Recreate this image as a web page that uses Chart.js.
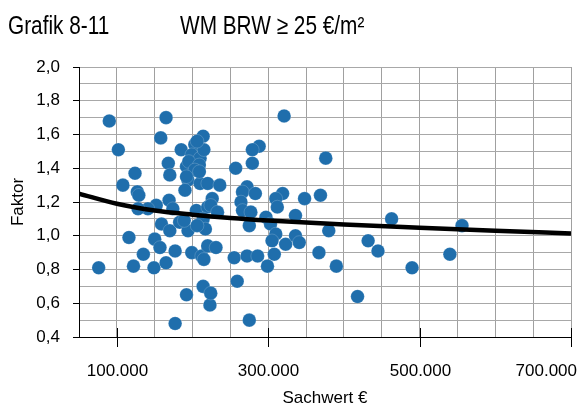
<!DOCTYPE html>
<html>
<head>
<meta charset="utf-8">
<script src="https://cdn.jsdelivr.net/npm/chart.js@4"></script>
<style>
  html, body { margin: 0; padding: 0; background: #fff; }
</style>
</head>
<body>
<canvas id="chart" width="580" height="409"></canvas>
<script>
// Daten: Sachwert (€) und Faktor je Kauffall
const sachwert = [
  90000, 165000, 158000, 102000, 185000, 214000, 203000, 199000, 210000, 168000,
  124000, 108000, 170000, 192000, 194000, 190000, 210000, 220000, 127000, 129000,
  169000, 152000, 141000, 128000, 205000, 220000, 321000, 288000, 279000, 257000,
  279000, 376000, 236000, 272000, 266000, 283000, 319000, 310000, 348000, 369000,
  226000, 224000, 264000, 266000, 312000, 233000, 336000, 174000, 159000, 170000,
  183000, 194000, 214000, 116000, 150000, 157000, 135000, 177000, 199000, 212000,
  76000, 122000, 149000, 165000, 214000, 192000, 223000, 177000, 277000, 275000,
  297000, 303000, 217000, 310000, 305000, 323000, 336000, 341000, 380000, 220000,
  231000, 215000, 255000, 272000, 286000, 308000, 367000, 299000, 259000, 224000,
  275000, 463000, 556000, 432000, 445000, 540000, 390000, 490000, 418000, 195000,
  209000, 215000, 206000, 189000, 206000, 203000, 192000, 209000
];
const faktor = [
  1.68, 1.70, 1.58, 1.51, 1.51, 1.59, 1.54, 1.48, 1.46, 1.43,
  1.37, 1.30, 1.36, 1.41, 1.33, 1.27, 1.31, 1.31, 1.26, 1.24,
  1.21, 1.18, 1.16, 1.16, 1.15, 1.17, 1.71, 1.53, 1.51, 1.40,
  1.43, 1.46, 1.30, 1.29, 1.26, 1.25, 1.25, 1.22, 1.22, 1.24,
  1.22, 1.18, 1.20, 1.15, 1.17, 1.14, 1.12, 1.16, 1.07, 1.03,
  1.08, 1.03, 1.10, 0.99, 0.98, 0.93, 0.89, 0.91, 0.90, 0.88,
  0.81, 0.82, 0.81, 0.84, 0.70, 0.65, 0.59, 0.48, 1.14, 1.06,
  1.11, 1.07, 1.04, 1.01, 0.97, 0.95, 1.00, 0.96, 1.03, 0.94,
  0.93, 0.86, 0.87, 0.88, 0.88, 0.89, 0.90, 0.82, 0.73, 0.66,
  0.50, 1.10, 1.06, 0.97, 0.91, 0.89, 0.82, 0.81, 0.64, 1.44,
  1.42, 1.51, 1.56, 1.09, 1.06, 1.39, 1.35, 1.38
];

// Trendlinie
const trendX = [50000, 100000, 150000, 200000, 250000, 300000, 400000, 500000, 600000, 700000];
const trendY = [1.25, 1.19, 1.15, 1.125, 1.105, 1.09, 1.067, 1.048, 1.03, 1.014];

const xTickLabels = [100000, 300000, 500000, 700000];
const titleLeft = "Grafik 8-11";
const titleRight = "WM BRW ≥ 25 €/m²";

const fmtX = v => String(v).replace(/\B(?=(\d{3})+(?!\d))/g, ".");
const fmtY = v => v.toFixed(1).replace(".", ",");
const isMajorY = v => Math.round(v * 10) % 2 === 0;

const labelFont = { family: "'Liberation Sans', Arial, sans-serif", size: 17 };

const extras = {
  id: "extras",
  afterDraw(chart) {
    const { ctx, chartArea } = chart;
    const x = chart.scales.x;
    ctx.save();
    ctx.fillStyle = "#000";
    ctx.textBaseline = "alphabetic";
    ctx.textAlign = "left";
    // schmale Schrift nachgebildet (Arial Narrow)
    ctx.font = "26px 'Liberation Sans', Arial, sans-serif";
    ctx.save();
    ctx.scale(0.8, 1);
    ctx.fillText(titleLeft, 8 / 0.8, 34);
    ctx.fillText(titleRight, 180 / 0.8, 34);
    ctx.restore();

    // Hauptstriche kreuzen die Achse, Beschriftung darunter
    ctx.strokeStyle = "#000";
    ctx.lineWidth = 1;
    ctx.font = "17px 'Liberation Sans', Arial, sans-serif";
    ctx.textBaseline = "middle";
    xTickLabels.forEach(v => {
      const px = Math.round(x.getPixelForValue(v)) + 0.5;
      ctx.beginPath();
      ctx.moveTo(px, chartArea.bottom - 9);
      ctx.lineTo(px, chartArea.bottom + 10);
      ctx.stroke();
      const t = fmtX(v);
      const w = ctx.measureText(t).width;
      if (px + w / 2 > chart.width - 3) {
        ctx.textAlign = "right";
        ctx.fillText(t, chart.width - 3, 371);
      } else {
        ctx.textAlign = "center";
        ctx.fillText(t, px, 371);
      }
    });
    ctx.restore();
  }
};

new Chart(document.getElementById("chart"), {
  type: "scatter",
  data: {
    datasets: [
      {
        type: "line",
        label: "Trend",
        data: trendX.map((x, i) => ({ x: x, y: trendY[i] })),
        borderColor: "#000",
        borderWidth: 4.5,
        pointRadius: 0,
        tension: 0.4,
        cubicInterpolationMode: "monotone",
        fill: false,
        order: 0
      },
      {
        label: "Faktor",
        data: sachwert.map((x, i) => ({ x: x, y: faktor[i] })),
        backgroundColor: "#1F6EAC",
        borderColor: "rgba(255,255,255,0.3)",
        borderWidth: 0.6,
        pointRadius: 6.8,
        order: 1
      }
    ]
  },
  options: {
    responsive: false,
    devicePixelRatio: 1,
    animation: false,
    layout: { padding: { top: 67, right: 9, left: 0, bottom: 0 } },
    plugins: { legend: { display: false }, tooltip: { enabled: false } },
    scales: {
      x: {
        type: "linear",
        min: 50000,
        max: 700000,
        afterFit: s => { s.height = 72; },
        ticks: { display: false, stepSize: 50000 },
        grid: { color: "#a0a0a0", drawTicks: false },
        border: { color: "#000", width: 1 },
        title: {
          display: true, text: "Sachwert €", color: "#000",
          font: labelFont, padding: { top: 0, bottom: 0 }
        }
      },
      y: {
        min: 0.4,
        max: 2.0,
        afterFit: s => { s.width = 79; },
        ticks: {
          stepSize: 0.1, autoSkip: false, padding: 13, color: "#000", font: labelFont,
          callback: v => isMajorY(v) ? fmtY(v) : ""
        },
        grid: {
          color: "#a8a8a8",
          tickLength: 6,
          tickColor: c => isMajorY(c.tick.value) ? "#000" : "rgba(0,0,0,0)"
        },
        border: { color: "#000", width: 1 },
        title: {
          display: true, text: "Faktor", color: "#000",
          font: labelFont, padding: { top: 8, bottom: 0 }
        }
      }
    }
  },
  plugins: [extras]
});
</script>
</body>
</html>
